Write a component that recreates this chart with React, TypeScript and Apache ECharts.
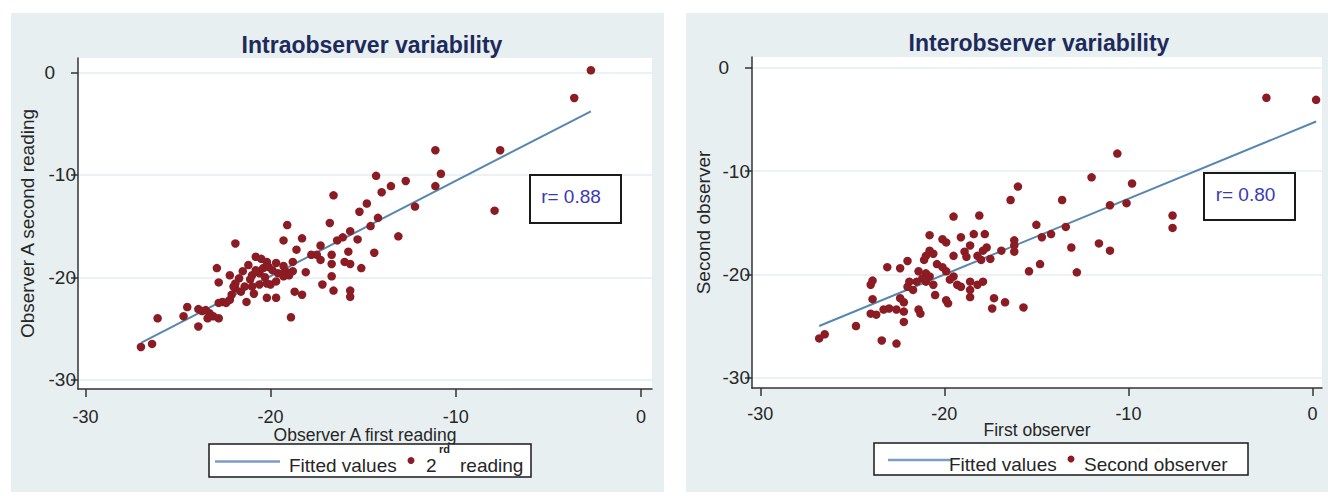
import React, { useEffect, useRef } from "react";
import * as echarts from "echarts";

// ---------- data ----------
const TICKS = [-30, -20, -10, 0];

const intraTitle = "Intraobserver variability";
const intraXName = "Observer A first reading";
const intraYName = "Observer A second reading";
const intraR = "r= 0.88";

const intraFirst = [
  -2.7, -3.6, -11.1, -7.6, -10.8, -11.1, -14.3, -13.5, -12.7, -14.0,
  -16.6, -14.8, -15.2, -12.2, -7.9, -14.2, -14.6, -15.7, -16.1, -16.4,
  -15.3, -13.1, -16.8, -15.8, -14.4, -16.7, -16.0, -15.7, -16.7, -15.1,
  -16.7, -16.6, -15.7, -15.7, -19.1, -19.3, -18.3, -21.9, -18.6, -17.3,
  -17.8, -17.5, -17.3, -18.8, -18.8, -20.8, -20.2, -21.2, -19.7, -19.3,
  -19.2, -19.6, -22.9, -22.2, -22.8, -21.7, -21.9, -21.9, -21.4, -21.1,
  -21.0, -20.6, -20.8, -20.4, -20.1, -21.0, -20.6, -20.2, -20.0, -19.7,
  -19.3, -19.0, -22.1, -21.3, -20.2, -19.7, -18.7, -18.3, -18.1, -22.8,
  -22.6, -22.4, -23.5, -23.3, -23.1, -22.8, -23.4, -23.7, -23.9, -24.5,
  -24.7, -23.9, -26.1, -18.9, -26.4, -27.0, -17.2, -20.5, -21.5, -20.3,
  -21.6, -22.0, -19.9, -20.9, -22.2,
];
const intraSecond = [
  0.2, -2.5, -7.6, -7.6, -9.9, -11.1, -10.1, -11.1, -10.6, -11.7,
  -12.0, -12.8, -13.6, -13.1, -13.5, -14.2, -15.0, -15.5, -16.1, -16.4,
  -16.3, -16.0, -14.7, -17.5, -17.6, -17.8, -18.5, -18.7, -18.7, -19.1,
  -19.9, -21.3, -21.3, -21.9, -14.9, -16.4, -16.2, -16.7, -17.3, -16.9,
  -17.8, -17.8, -18.3, -18.5, -19.4, -18.0, -18.5, -18.8, -18.6, -18.9,
  -19.4, -19.6, -19.1, -19.8, -20.5, -20.1, -20.6, -21.1, -20.9, -20.2,
  -19.8, -19.6, -19.3, -19.1, -19.0, -20.9, -20.7, -20.6, -20.7, -20.4,
  -19.9, -19.8, -21.7, -22.4, -22.0, -22.0, -21.4, -21.7, -19.5, -22.5,
  -22.4, -22.5, -23.2, -23.5, -23.8, -24.0, -24.0, -23.3, -23.1, -22.9,
  -23.8, -24.8, -24.0, -23.9, -26.5, -26.8, -20.7, -18.2, -19.4, -20.0,
  -21.4, -20.9, -19.3, -21.6, -22.2,
];
const intraFitX = [-27.0, -2.7];
const intraFitY = [-26.4, -3.8];

const interTitle = "Interobserver variability";
const interXName = "First observer";
const interYName = "Second observer";
const interR = "r= 0.80";

const interFirst = [
  -2.5, 0.2, -10.6, -12.0, -9.8, -16.0, -16.4, -13.6, -11.0, -10.1,
  -7.6, -7.6, -15.0, -13.4, -14.7, -14.2, -16.2, -16.2, -16.2, -16.9,
  -13.1, -11.6, -11.0, -14.8, -15.4, -12.8, -16.7, -15.7, -19.5, -18.1,
  -20.8, -19.1, -18.4, -17.8, -20.1, -19.9, -18.6, -17.7, -20.8, -20.6,
  -21.0, -19.5, -18.9, -18.8, -18.2, -18.0, -17.5, -17.9, -21.1, -20.4,
  -20.1, -22.0, -23.1, -22.4, -21.4, -21.0, -20.8, -21.2, -21.5, -21.0,
  -20.6, -19.9, -19.5, -19.7, -19.3, -19.1, -18.6, -18.2, -17.9, -18.6,
  -18.6, -21.9, -21.7, -22.0, -22.4, -22.2, -23.9, -24.0, -23.9, -24.0,
  -23.7, -23.3, -23.0, -22.6, -22.2, -22.2, -21.4, -21.3, -20.5, -19.9,
  -19.8, -17.3, -17.4, -24.8, -26.5, -26.8, -23.4, -22.6,
];
const interSecond = [
  -2.9, -3.1, -8.3, -10.6, -11.2, -11.5, -12.8, -12.8, -13.3, -13.1,
  -14.3, -15.5, -15.2, -15.4, -16.4, -16.1, -16.7, -17.2, -17.8, -17.7,
  -17.4, -17.0, -17.7, -19.0, -19.7, -19.8, -22.7, -23.2, -14.4, -14.3,
  -16.2, -16.4, -16.1, -16.1, -16.6, -16.9, -17.2, -17.4, -17.7, -18.0,
  -18.2, -18.2, -17.8, -18.3, -18.2, -18.6, -18.5, -17.7, -18.6, -19.0,
  -19.3, -18.7, -19.3, -19.4, -19.7, -19.9, -20.2, -20.4, -20.7, -20.7,
  -21.0, -19.7, -20.2, -20.5, -21.0, -21.2, -21.5, -21.0, -20.7, -20.7,
  -22.2, -20.7, -21.5, -21.2, -22.3, -22.7, -20.6, -21.0, -22.4, -23.8,
  -23.9, -23.4, -23.3, -23.4, -23.6, -24.6, -23.4, -23.8, -22.0, -22.5,
  -22.8, -22.3, -23.3, -25.0, -25.8, -26.2, -26.4, -26.7,
];
const interFitX = [-26.8, 0.2];
const interFitY = [-25.0, -5.2];

const legendLine = "Fitted values";
const intraLegendNum = "2";
const intraLegendSup = "rd";
const intraLegendRest = "reading";
const interLegendPts = "Second observer";

// ---------- styles ----------
const FONT = "'Liberation Sans', Arial, Helvetica, sans-serif";
const PANEL = "#e8eff1";
const TEXT = "#262626";
const AXIS = "#333333";
const GRIDLINE = "#e6edef";
const DOT = "#8b1c23";
const FIT = "#5787b0";
const FIT_LEGEND = "#7b9cc3";
const TITLE = "#1d2a5c";
const RCOLOR = "#3a3ab4";

const pairs = (xs: number[], ys: number[]) => xs.map((x, i) => [x, ys[i]]);

function makeXAxis(grid: number, min: number, max: number, name: string, gap: number, margin: number) {
  return {
    type: "value",
    gridIndex: grid,
    min,
    max,
    name,
    nameLocation: "middle",
    nameGap: gap,
    nameMoveOverlap: false,
    nameTextStyle: { fontSize: 17.5, lineHeight: 17, color: TEXT, fontFamily: FONT },
    axisLine: { show: true, onZero: false, lineStyle: { color: AXIS, width: 1.5 } },
    axisTick: { show: true, length: 8, customValues: TICKS, lineStyle: { color: AXIS, width: 1.5 } },
    axisLabel: { customValues: TICKS, margin, fontSize: 18, lineHeight: 17, color: TEXT, fontFamily: FONT },
    splitLine: { show: false },
  };
}

function makeYAxis(grid: number, min: number, max: number, name: string, gap: number) {
  return {
    type: "value",
    gridIndex: grid,
    min,
    max,
    name,
    nameLocation: "middle",
    nameGap: gap,
    nameMoveOverlap: false,
    nameTextStyle: { fontSize: 19, color: TEXT, fontFamily: FONT },
    axisLine: { show: true, onZero: false, lineStyle: { color: AXIS, width: 1.5 } },
    axisTick: { show: true, length: 7, customValues: TICKS, lineStyle: { color: AXIS, width: 1.5 } },
    axisLabel: {
      customValues: TICKS,
      margin: 2,
      fontSize: 19,
      color: TEXT,
      fontFamily: FONT,
      formatter: (v: number) => (v === 0 ? "{z|0}" : String(v)),
      rich: { z: { fontSize: 19, color: TEXT, fontFamily: FONT, padding: [0, 21, 0, 0] } },
    },
    splitLine: { show: true, lineStyle: { color: GRIDLINE, width: 1.5 } },
  };
}

function txt(x: number, y: number, text: string, extra: any = {}) {
  return {
    type: "text",
    x,
    y,
    z: 20,
    silent: true,
    style: {
      text,
      fontSize: 19,
      fontFamily: FONT,
      fill: TEXT,
      align: "left",
      verticalAlign: "middle",
      ...extra,
    },
  };
}

export default function App() {
  const ref = useRef<HTMLDivElement>(null);

  useEffect(() => {
    document.body.style.margin = "0";
    if (!ref.current) return;
    const chart = echarts.init(ref.current, undefined, { renderer: "svg" });

    const option: any = {
      animation: false,
      backgroundColor: "transparent",
      grid: [
        { left: 78, top: 58, width: 574, height: 331, show: true, backgroundColor: "#ffffff", borderWidth: 0, containLabel: false, outerBoundsMode: "none" },
        { left: 752, top: 57, width: 570, height: 331, show: true, backgroundColor: "#ffffff", borderWidth: 0, containLabel: false, outerBoundsMode: "none" },
      ],
      xAxis: [
        makeXAxis(0, -30.4, 0.6, intraXName, 37, 19),
        makeXAxis(1, -30.45, 0.52, interXName, 33, 17),
      ],
      yAxis: [
        makeYAxis(0, -30.9, 1.4, intraYName, 41),
        makeYAxis(1, -31.0, 1.05, interYName, 39),
      ],
      series: [
        {
          type: "line",
          xAxisIndex: 0,
          yAxisIndex: 0,
          data: pairs(intraFitX, intraFitY),
          symbol: "none",
          lineStyle: { color: FIT, width: 2 },
          z: 2,
          silent: true,
        },
        {
          type: "scatter",
          xAxisIndex: 0,
          yAxisIndex: 0,
          data: pairs(intraFirst, intraSecond),
          symbolSize: 8.5,
          itemStyle: { color: DOT, opacity: 1 },
          z: 3,
          silent: true,
        },
        {
          type: "line",
          xAxisIndex: 1,
          yAxisIndex: 1,
          data: pairs(interFitX, interFitY),
          symbol: "none",
          lineStyle: { color: FIT, width: 2 },
          z: 2,
          silent: true,
        },
        {
          type: "scatter",
          xAxisIndex: 1,
          yAxisIndex: 1,
          data: pairs(interFirst, interSecond),
          symbolSize: 8.5,
          itemStyle: { color: DOT, opacity: 1 },
          z: 3,
          silent: true,
        },
      ],
      graphic: [
        // panel backgrounds
        { type: "rect", z: -10, silent: true, shape: { x: 11, y: 13, width: 653, height: 479 }, style: { fill: PANEL } },
        { type: "rect", z: -10, silent: true, shape: { x: 686, y: 13, width: 642, height: 479 }, style: { fill: PANEL } },
        // titles
        txt(372, 45, intraTitle, { align: "center", fontSize: 23, fontWeight: "bold", fill: TITLE }),
        txt(1039, 43, interTitle, { align: "center", fontSize: 23, fontWeight: "bold", fill: TITLE }),
        // r boxes
        { type: "rect", z: 15, silent: true, shape: { x: 530, y: 175, width: 91, height: 48 }, style: { fill: "#ffffff", stroke: "#1a1a1a", lineWidth: 2 } },
        txt(571, 196, intraR, { align: "center", fill: RCOLOR }),
        { type: "rect", z: 15, silent: true, shape: { x: 1204, y: 173, width: 91, height: 47 }, style: { fill: "#ffffff", stroke: "#1a1a1a", lineWidth: 2 } },
        txt(1245.5, 194, interR, { align: "center", fill: RCOLOR }),
        // left legend
        { type: "rect", z: 15, silent: true, shape: { x: 209, y: 444, width: 322, height: 33 }, style: { fill: "#ffffff", stroke: "#1a1a1a", lineWidth: 1.5 } },
        { type: "line", z: 20, silent: true, shape: { x1: 215, y1: 461.5, x2: 280, y2: 461.5 }, style: { stroke: FIT_LEGEND, lineWidth: 2.5 } },
        txt(289, 465, legendLine),
        { type: "circle", z: 20, silent: true, shape: { cx: 411, cy: 460.5, r: 3.5 }, style: { fill: DOT } },
        txt(426, 465, intraLegendNum),
        txt(439, 449, intraLegendSup, { fontSize: 11, fontWeight: "bold" }),
        txt(460, 465, intraLegendRest),
        // right legend
        { type: "rect", z: 15, silent: true, shape: { x: 874, y: 443, width: 374, height: 32 }, style: { fill: "#ffffff", stroke: "#1a1a1a", lineWidth: 1.5 } },
        { type: "line", z: 20, silent: true, shape: { x1: 888, y1: 460, x2: 952, y2: 460 }, style: { stroke: FIT_LEGEND, lineWidth: 2.5 } },
        txt(949, 464, legendLine),
        { type: "circle", z: 20, silent: true, shape: { cx: 1071, cy: 459, r: 3.5 }, style: { fill: DOT } },
        txt(1084, 464, interLegendPts),
      ],
    };

    chart.setOption(option);
    return () => chart.dispose();
  }, []);

  return (
    <div
      ref={ref}
      style={{ position: "absolute", left: 0, top: 0, width: 1328, height: 496, background: "#ffffff" }}
    />
  );
}
